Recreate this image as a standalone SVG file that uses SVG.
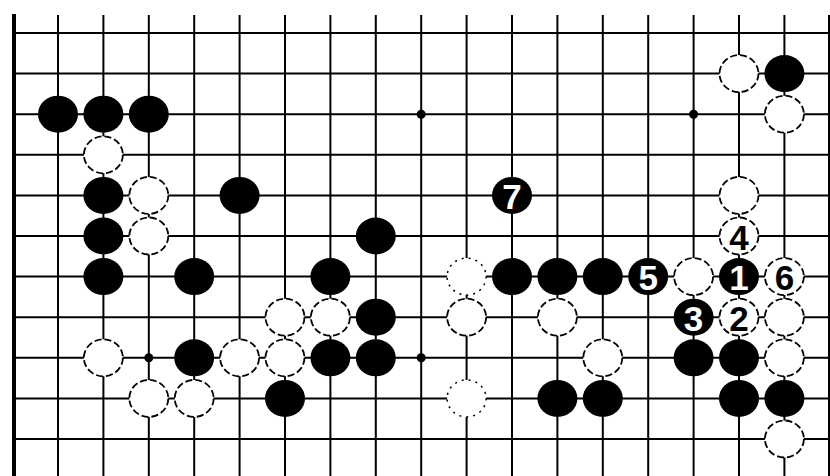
<svg xmlns="http://www.w3.org/2000/svg" width="830" height="476" viewBox="0 0 830 476">
<style>
.ln{stroke:#000;stroke-width:2;fill:none}
.edge{stroke:#000;stroke-width:4;fill:none}
.b{fill:#000}
.w{fill:#fff;stroke:#000;stroke-width:1.8;stroke-dasharray:7 3}
.wf{fill:#fff;stroke:#000;stroke-width:1.5;stroke-dasharray:2 5}
.star{fill:#000}
.nb{font-family:"Liberation Sans",Arial,sans-serif;font-weight:bold;font-size:35px;fill:#fff;text-anchor:middle;dominant-baseline:central}
.nw{font-family:"Liberation Sans",Arial,sans-serif;font-weight:bold;font-size:35px;fill:#000;text-anchor:middle;dominant-baseline:central}
</style>
<rect width="830" height="476" fill="#fff"/>
<g id="grid">
<path class="ln" d="M58 15V476M103.4 15V476M148.8 15V476M194.2 15V476M239.6 15V476M285 15V476M330.4 15V476M375.8 15V476M421.2 15V476M466.6 15V476M512 15V476M557.4 15V476M602.8 15V476M648.2 15V476M693.6 15V476M739 15V476M784.4 15V476M829 15V476"/>
<path class="ln" d="M14 33H830M14 73.6H830M14 114.2H830M14 154.8H830M14 195.4H830M14 236H830M14 276.6H830M14 317.2H830M14 357.8H830M14 398.4H830M14 439H830"/>
<path class="edge" d="M14 14V476"/>
</g>
<g id="stars">
<circle class="star" cx="421.2" cy="114.2" r="4.5"/>
<circle class="star" cx="693.6" cy="114.2" r="4.5"/>
<circle class="star" cx="148.8" cy="357.8" r="4.5"/>
<circle class="star" cx="421.2" cy="357.8" r="4.5"/>
</g>
<g id="stones">
<g id="w-p1-15"><ellipse class="w" cx="739" cy="73.6" rx="19.5" ry="18.5"/></g>
<g id="b-p1-16"><ellipse class="b" cx="784.4" cy="73.6" rx="20" ry="18.5"/></g>
<g id="b-p2-0"><ellipse class="b" cx="58" cy="114.2" rx="20" ry="18.5"/></g>
<g id="b-p2-1"><ellipse class="b" cx="103.4" cy="114.2" rx="20" ry="18.5"/></g>
<g id="b-p2-2"><ellipse class="b" cx="148.8" cy="114.2" rx="20" ry="18.5"/></g>
<g id="w-p2-16"><ellipse class="w" cx="784.4" cy="114.2" rx="19.5" ry="18.5"/></g>
<g id="w-p3-1"><ellipse class="w" cx="103.4" cy="154.8" rx="19.5" ry="18.5"/></g>
<g id="b-p4-1"><ellipse class="b" cx="103.4" cy="195.4" rx="20" ry="18.5"/></g>
<g id="w-p4-2"><ellipse class="w" cx="148.8" cy="195.4" rx="19.5" ry="18.5"/></g>
<g id="b-p4-4"><ellipse class="b" cx="239.6" cy="195.4" rx="20" ry="18.5"/></g>
<g id="b7"><ellipse class="b" cx="512" cy="195.4" rx="20" ry="18.5"/><text class="nb" x="512" y="196.4">7</text></g>
<g id="w-p4-15"><ellipse class="w" cx="739" cy="195.4" rx="19.5" ry="18.5"/></g>
<g id="b-p5-1"><ellipse class="b" cx="103.4" cy="236" rx="20" ry="18.5"/></g>
<g id="w-p5-2"><ellipse class="w" cx="148.8" cy="236" rx="19.5" ry="18.5"/></g>
<g id="b-p5-7"><ellipse class="b" cx="375.8" cy="236" rx="20" ry="18.5"/></g>
<g id="w4"><ellipse class="w" cx="739" cy="236" rx="19.5" ry="18.5"/><text class="nw" x="739" y="237">4</text></g>
<g id="b-p6-1"><ellipse class="b" cx="103.4" cy="276.6" rx="20" ry="18.5"/></g>
<g id="b-p6-3"><ellipse class="b" cx="194.2" cy="276.6" rx="20" ry="18.5"/></g>
<g id="b-p6-6"><ellipse class="b" cx="330.4" cy="276.6" rx="20" ry="18.5"/></g>
<g id="w-p6-9"><ellipse class="wf" cx="466.6" cy="276.6" rx="19.5" ry="18.5"/></g>
<g id="b-p6-10"><ellipse class="b" cx="512" cy="276.6" rx="20" ry="18.5"/></g>
<g id="b-p6-11"><ellipse class="b" cx="557.4" cy="276.6" rx="20" ry="18.5"/></g>
<g id="b-p6-12"><ellipse class="b" cx="602.8" cy="276.6" rx="20" ry="18.5"/></g>
<g id="b5"><ellipse class="b" cx="648.2" cy="276.6" rx="20" ry="18.5"/><text class="nb" x="648.2" y="277.6">5</text></g>
<g id="w-p6-14"><ellipse class="w" cx="693.6" cy="276.6" rx="19.5" ry="18.5"/></g>
<g id="b1"><ellipse class="b" cx="739" cy="276.6" rx="20" ry="18.5"/><text class="nb" x="739" y="277.6">1</text></g>
<g id="w6"><ellipse class="w" cx="784.4" cy="276.6" rx="19.5" ry="18.5"/><text class="nw" x="784.4" y="277.6">6</text></g>
<g id="w-p7-5"><ellipse class="w" cx="285" cy="317.2" rx="19.5" ry="18.5"/></g>
<g id="w-p7-6"><ellipse class="w" cx="330.4" cy="317.2" rx="19.5" ry="18.5"/></g>
<g id="b-p7-7"><ellipse class="b" cx="375.8" cy="317.2" rx="20" ry="18.5"/></g>
<g id="w-p7-9"><ellipse class="w" cx="466.6" cy="317.2" rx="19.5" ry="18.5"/></g>
<g id="w-p7-11"><ellipse class="w" cx="557.4" cy="317.2" rx="19.5" ry="18.5"/></g>
<g id="b3"><ellipse class="b" cx="693.6" cy="317.2" rx="20" ry="18.5"/><text class="nb" x="693.6" y="318.2">3</text></g>
<g id="w2"><ellipse class="w" cx="739" cy="317.2" rx="19.5" ry="18.5"/><text class="nw" x="739" y="318.2">2</text></g>
<g id="w-p7-16"><ellipse class="w" cx="784.4" cy="317.2" rx="19.5" ry="18.5"/></g>
<g id="w-p8-1"><ellipse class="w" cx="103.4" cy="357.8" rx="19.5" ry="18.5"/></g>
<g id="b-p8-3"><ellipse class="b" cx="194.2" cy="357.8" rx="20" ry="18.5"/></g>
<g id="w-p8-4"><ellipse class="w" cx="239.6" cy="357.8" rx="19.5" ry="18.5"/></g>
<g id="w-p8-5"><ellipse class="w" cx="285" cy="357.8" rx="19.5" ry="18.5"/></g>
<g id="b-p8-6"><ellipse class="b" cx="330.4" cy="357.8" rx="20" ry="18.5"/></g>
<g id="b-p8-7"><ellipse class="b" cx="375.8" cy="357.8" rx="20" ry="18.5"/></g>
<g id="w-p8-12"><ellipse class="w" cx="602.8" cy="357.8" rx="19.5" ry="18.5"/></g>
<g id="b-p8-14"><ellipse class="b" cx="693.6" cy="357.8" rx="20" ry="18.5"/></g>
<g id="b-p8-15"><ellipse class="b" cx="739" cy="357.8" rx="20" ry="18.5"/></g>
<g id="w-p8-16"><ellipse class="w" cx="784.4" cy="357.8" rx="19.5" ry="18.5"/></g>
<g id="w-p9-2"><ellipse class="w" cx="148.8" cy="398.4" rx="19.5" ry="18.5"/></g>
<g id="w-p9-3"><ellipse class="w" cx="194.2" cy="398.4" rx="19.5" ry="18.5"/></g>
<g id="b-p9-5"><ellipse class="b" cx="285" cy="398.4" rx="20" ry="18.5"/></g>
<g id="w-p9-9"><ellipse class="wf" cx="466.6" cy="398.4" rx="19.5" ry="18.5"/></g>
<g id="b-p9-11"><ellipse class="b" cx="557.4" cy="398.4" rx="20" ry="18.5"/></g>
<g id="b-p9-12"><ellipse class="b" cx="602.8" cy="398.4" rx="20" ry="18.5"/></g>
<g id="b-p9-15"><ellipse class="b" cx="739" cy="398.4" rx="20" ry="18.5"/></g>
<g id="b-p9-16"><ellipse class="b" cx="784.4" cy="398.4" rx="20" ry="18.5"/></g>
<g id="w-p10-16"><ellipse class="w" cx="784.4" cy="439" rx="19.5" ry="18.5"/></g>
</g>
</svg>
